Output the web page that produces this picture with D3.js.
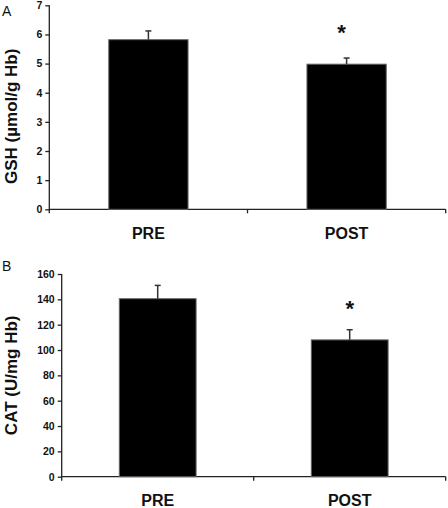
<!DOCTYPE html>
<html>
<head>
<meta charset="utf-8">
<script src="https://cdn.jsdelivr.net/npm/d3@7"></script>
<style>
  html, body { margin: 0; padding: 0; background: #fff; }
  svg { display: block; }
  text { font-family: "Liberation Sans", Arial, sans-serif; }
</style>
</head>
<body>
<svg id="chart" width="448" height="508"></svg>
<script>
const categories = ["PRE", "POST"];
const gshMeans = [5.82, 4.98];
const gshErrors = [0.30, 0.21];
const catMeans = [140.5, 108];
const catErrors = [10.5, 8];
const significance = ["", "*"];
const gshTicks = [0, 1, 2, 3, 4, 5, 6, 7];
const catTicks = [0, 20, 40, 60, 80, 100, 120, 140, 160];

const svg = d3.select("#chart");

function panel(opts) {
  const g = svg.append("g");
  const x = d3.scaleBand().domain(categories).range([opts.x0, opts.x1]).padding(0);
  const y = d3.scaleLinear().domain([0, opts.ymax]).range([opts.y0, opts.y1]);
  const barW = x.bandwidth() * 0.4;

  // y axis
  const yAxis = d3.axisLeft(y).tickValues(opts.ticks).tickFormat(d3.format("d"))
    .tickSize(4).tickPadding(3).tickSizeOuter(0);
  const ya = g.append("g").attr("transform", `translate(${opts.x0},0)`).call(yAxis);
  ya.select(".domain").attr("stroke", "#222").attr("stroke-width", 1.3)
    .attr("d", `M0,${opts.y1}V${opts.y0 + 4}`);
  ya.selectAll(".tick line").attr("stroke", "#222").attr("stroke-width", 1.3);
  ya.selectAll(".tick text").attr("font-size", 10.5).attr("font-weight", "bold")
    .attr("fill", "#111").attr("font-family", "Liberation Sans, Arial, sans-serif");

  // x axis line with ticks at category boundaries
  const bounds = categories.map(c => x(c) + x.bandwidth());
  g.append("line").attr("x1", opts.x0).attr("x2", opts.x1)
    .attr("y1", opts.y0).attr("y2", opts.y0)
    .attr("stroke", "#222").attr("stroke-width", 1.3);
  g.selectAll(".xt").data(bounds).enter().append("line")
    .attr("x1", d => d).attr("x2", d => d)
    .attr("y1", opts.y0).attr("y2", opts.y0 + 4)
    .attr("stroke", "#222").attr("stroke-width", 1.3);

  // category labels
  g.selectAll(".xl").data(categories).enter().append("text")
    .attr("x", d => x(d) + x.bandwidth() / 2)
    .attr("y", opts.y0 + 29.5)
    .attr("text-anchor", "middle")
    .attr("font-size", 16).attr("font-weight", "bold").attr("fill", "#111")
    .text(d => d);

  // bars
  g.selectAll(".bar").data(categories).enter().append("rect")
    .attr("x", d => x(d) + (x.bandwidth() - barW) / 2)
    .attr("width", barW)
    .attr("y", (d, i) => y(opts.means[i]))
    .attr("height", (d, i) => opts.y0 - y(opts.means[i]))
    .attr("fill", "#000").attr("stroke", "#666").attr("stroke-width", 1);

  // error bars (upper only)
  categories.forEach((c, i) => {
    const cx = x(c) + x.bandwidth() / 2;
    const yt = y(opts.means[i] + opts.errs[i]);
    g.append("line").attr("x1", cx).attr("x2", cx)
      .attr("y1", y(opts.means[i])).attr("y2", yt)
      .attr("stroke", "#333").attr("stroke-width", 1.5);
    g.append("line").attr("x1", cx - 3).attr("x2", cx + 3)
      .attr("y1", yt).attr("y2", yt)
      .attr("stroke", "#333").attr("stroke-width", 1.5);
  });

  // significance marks
  g.selectAll(".sig").data(categories).enter().append("text")
    .attr("x", d => x(d) + x.bandwidth() / 2 + opts.sigDx)
    .attr("y", (d, i) => y(opts.means[i] + opts.errs[i]) - opts.sigGap)
    .attr("text-anchor", "middle")
    .attr("font-size", 22).attr("font-weight", "bold").attr("fill", "#111")
    .text((d, i) => significance[i]);

  // y title
  g.append("text")
    .attr("transform", `translate(${opts.titleX},${(opts.y0 + opts.y1) / 2 + opts.titleDy}) rotate(-90)`)
    .attr("text-anchor", "middle")
    .attr("font-size", 17).attr("font-weight", "bold").attr("fill", "#111")
    .text(opts.title);

  // panel letter
  g.append("text").attr("x", 2).attr("y", opts.letterY)
    .attr("font-size", 14).attr("fill", "#111").text(opts.letter);
}

panel({
  x0: 49.3, x1: 445.7, y0: 209.3, y1: 5.3, ymax: 7,
  ticks: gshTicks, means: gshMeans, errs: gshErrors,
  title: "GSH (µmol/g Hb)", titleX: 17, titleDy: 9,
  letter: "A", letterY: 16, sigGap: 18, sigDx: -5
});

panel({
  x0: 61.7, x1: 445.7, y0: 476.7, y1: 274, ymax: 160,
  ticks: catTicks, means: catMeans, errs: catErrors,
  title: "CAT (U/mg Hb)", titleX: 17, titleDy: 0,
  letter: "B", letterY: 271, sigGap: 14, sigDx: 0
});
</script>
</body>
</html>
